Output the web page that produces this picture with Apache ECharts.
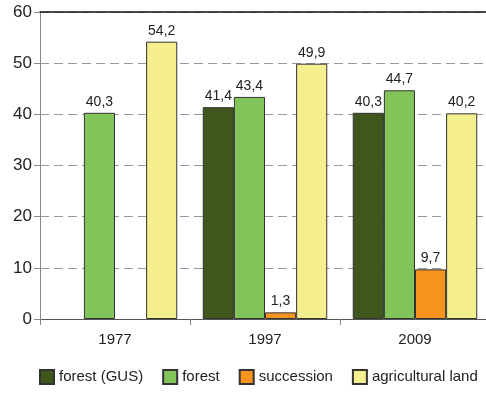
<!DOCTYPE html>
<html>
<head>
<meta charset="utf-8">
<script src="https://cdn.jsdelivr.net/npm/echarts@6/dist/echarts.min.js"></script>
<style>
  html, body { margin: 0; padding: 0; background: #fff; }
  #chart { width: 486px; height: 395px; }
</style>
</head>
<body>
<div id="chart"></div>
<script>
const years = ['1977', '1997', '2009'];
const forestGus = [null, 41.4, 40.3];
const forest = [40.3, 43.4, 44.7];
const succession = [null, 1.3, 9.7];
const agricultural = [54.2, 49.9, 40.2];

const font = '"Liberation Sans", Arial, sans-serif';

function comma(p) {
  return String(p.value).replace('.', ',');
}

function bar(name, data, color) {
  return {
    name: name,
    type: 'bar',
    data: data,
    barGap: '0%',
    barCategoryGap: '17%',
    itemStyle: { color: color, borderColor: '#333', borderWidth: 1 },
    label: {
      show: true,
      position: 'top',
      distance: 4,
      color: '#222',
      fontFamily: font,
      fontSize: 14,
      formatter: comma
    }
  };
}

const chart = echarts.init(document.getElementById('chart'));
const option = {
  animation: false,
  textStyle: { fontFamily: font },
  grid: { left: 40, top: 12, width: 450, height: 307, outerBoundsMode: 'none', containLabel: false },
  legend: {
    top: 369,
    left: 39,
    width: 447,
    itemWidth: 14,
    itemHeight: 14,
    itemGap: 19,
    padding: 0,
    icon: 'rect',
    textStyle: { fontFamily: font, fontSize: 15, color: '#222' },
    data: ['forest (GUS)', 'forest', 'succession', 'agricultural land']
  },
  xAxis: [{
    type: 'category',
    data: years,
    axisLine: { lineStyle: { color: '#555', width: 1 } },
    axisTick: { show: true, length: 6, lineStyle: { color: '#888' } },
    axisLabel: { color: '#222', fontFamily: font, fontSize: 15, margin: 13 }
  }, {
    type: 'category',
    position: 'top',
    data: years,
    axisLine: { lineStyle: { color: '#111', width: 1.5 } },
    axisTick: { show: false },
    axisLabel: { show: false }
  }],
  yAxis: {
    type: 'value',
    min: 0,
    max: 60,
    interval: 10,
    axisLine: { show: true, lineStyle: { color: '#888' } },
    axisTick: { show: true, length: 6, lineStyle: { color: '#888' } },
    axisLabel: { color: '#222', fontFamily: font, fontSize: 17, margin: 8 },
    splitLine: { lineStyle: { color: '#999', type: [9, 5] } }
  },
  series: [
    bar('forest (GUS)', forestGus, '#3f561c'),
    bar('forest', forest, '#82c45a'),
    bar('succession', succession, '#f7941d'),
    bar('agricultural land', agricultural, '#f5ef8f')
  ]
};
chart.setOption(option);
</script>
</body>
</html>
